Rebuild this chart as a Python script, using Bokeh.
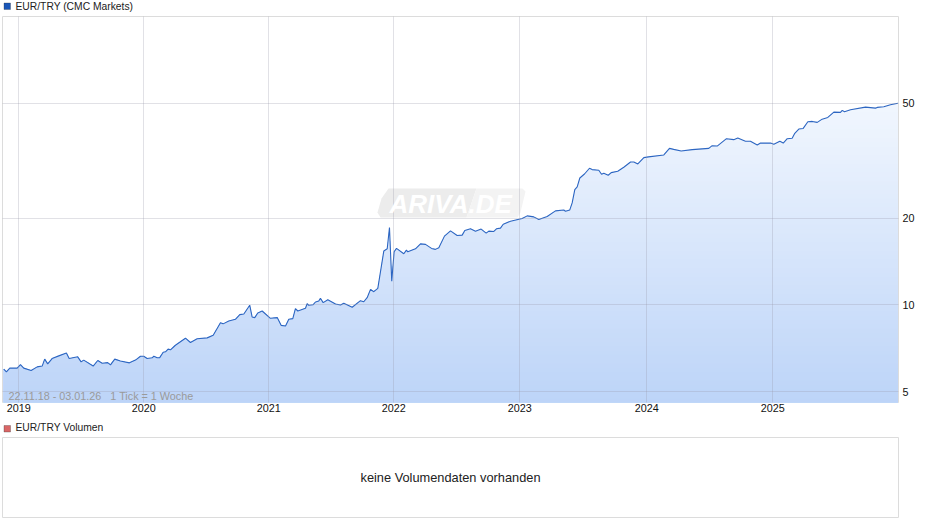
from bokeh.embed import file_html
from bokeh.layouts import column
from bokeh.models import FixedTicker, Label, NumeralTickFormatter, PolyAnnotation, Range1d
from bokeh.plotting import figure
from bokeh.resources import INLINE
import numpy as np

# x in decimal years
dates = [
    2018.879, 2018.900, 2018.927, 2018.986, 2019.012, 2019.038, 2019.097, 2019.145, 2019.185, 2019.205,
    2019.229, 2019.264, 2019.317, 2019.378, 2019.400, 2019.468, 2019.495, 2019.516, 2019.591, 2019.628,
    2019.663, 2019.707, 2019.729, 2019.763, 2019.808, 2019.880, 2019.928, 2019.968, 2019.994, 2020.021,
    2020.061, 2020.074, 2020.101, 2020.121, 2020.149, 2020.167, 2020.188, 2020.207, 2020.246, 2020.326,
    2020.366, 2020.419, 2020.499, 2020.547, 2020.605, 2020.626, 2020.671, 2020.724, 2020.759, 2020.791,
    2020.838, 2020.857, 2020.878, 2020.902, 2020.937, 2021.003, 2021.057, 2021.088, 2021.123, 2021.149,
    2021.181, 2021.202, 2021.221, 2021.282, 2021.295, 2021.308, 2021.343, 2021.362, 2021.388, 2021.401,
    2021.423, 2021.460, 2021.521, 2021.561, 2021.587, 2021.654, 2021.720, 2021.746, 2021.773, 2021.800,
    2021.826, 2021.858, 2021.906, 2021.933, 2021.951, 2021.969, 2021.988, 2022.007, 2022.065, 2022.086,
    2022.097, 2022.158, 2022.198, 2022.238, 2022.286, 2022.317, 2022.344, 2022.389, 2022.437, 2022.490,
    2022.530, 2022.551, 2022.596, 2022.636, 2022.681, 2022.721, 2022.742, 2022.782, 2022.803, 2022.835,
    2022.857, 2022.915, 2023.008, 2023.048, 2023.100, 2023.140, 2023.207, 2023.273, 2023.339, 2023.353,
    2023.387, 2023.406, 2023.427, 2023.446, 2023.467, 2023.504, 2023.544, 2023.565, 2023.618, 2023.640,
    2023.658, 2023.693, 2023.717, 2023.769, 2023.817, 2023.871, 2023.897, 2023.929, 2023.977, 2024.014,
    2024.136, 2024.181, 2024.215, 2024.274, 2024.362, 2024.494, 2024.521, 2024.561, 2024.635, 2024.693,
    2024.725, 2024.786, 2024.826, 2024.880, 2024.906, 2024.986, 2025.012, 2025.060, 2025.087, 2025.119,
    2025.158, 2025.177, 2025.211, 2025.246, 2025.283, 2025.318, 2025.358, 2025.397, 2025.442, 2025.490,
    2025.543, 2025.557, 2025.575, 2025.623, 2025.742, 2025.822, 2025.836, 2025.888, 2025.941, 2026.000,
]
eur_try = [
    5.99, 5.86, 6.04, 6.04, 6.21, 6.04, 5.93, 6.10, 6.14, 6.49,
    6.25, 6.52, 6.66, 6.81, 6.52, 6.61, 6.35, 6.44, 6.14, 6.42,
    6.28, 6.31, 6.20, 6.49, 6.39, 6.30, 6.44, 6.64, 6.64, 6.52,
    6.56, 6.64, 6.56, 6.57, 6.86, 6.88, 7.03, 6.99, 7.25, 7.67,
    7.41, 7.64, 7.69, 7.85, 8.68, 8.60, 8.80, 8.92, 9.26, 9.31,
    9.98, 9.09, 9.04, 9.38, 9.53, 8.99, 9.04, 8.50, 8.46, 8.92,
    8.97, 9.71, 9.53, 9.74, 10.10, 9.98, 10.02, 10.24, 10.32, 10.55,
    10.19, 10.43, 10.08, 10.00, 10.13, 9.82, 10.35, 10.26, 10.60, 11.33,
    11.12, 11.42, 15.40, 15.66, 18.57, 12.10, 15.29, 15.71, 15.05, 15.50,
    15.29, 15.66, 16.29, 16.22, 15.71, 15.59, 15.79, 17.33, 18.07, 17.42,
    17.47, 18.13, 18.37, 18.03, 18.33, 17.75, 18.03, 17.99, 18.37, 18.47,
    19.06, 19.52, 19.95, 20.37, 20.21, 19.79, 20.27, 21.20, 21.36, 21.14,
    21.36, 22.59, 25.14, 25.67, 27.57, 28.46, 29.80, 29.48, 29.32, 28.40,
    28.63, 28.18, 28.78, 29.09, 30.04, 31.32, 31.32, 30.83, 32.44, 32.64,
    33.13, 34.93, 34.65, 34.18, 34.58, 34.93, 35.68, 35.57, 37.73, 37.44,
    37.92, 36.95, 36.95, 35.86, 36.43, 36.43, 36.07, 36.95, 36.43, 37.73,
    37.84, 39.27, 40.74, 40.95, 43.21, 43.31, 42.97, 44.10, 44.72, 46.65,
    46.55, 47.30, 46.80, 47.54, 48.54, 48.16, 48.44, 48.69, 49.47, 50.10,
]
# the chart puts each year label on its first weekly tick, so these are not round
year_pos = [2018.9985, 2019.994, 2020.990, 2021.985, 2022.989, 2024.000, 2025.004]
year_labels = ["2019", "2020", "2021", "2022", "2023", "2024", "2025"]
price_ticks = [5, 10, 20, 50]

x_start, x_end = 2018.869, 2026.005
y_start, y_end = 4.59, 100.1
FONT = "Liberation Sans"


def heading(text, color, height, text_y, box_y):
    # things outside a frame get clipped in svg, so each heading is its own little figure
    h = figure(width=930, height=height, frame_width=930, frame_height=height,
               x_range=Range1d(0, 1), y_range=Range1d(0, 1),
               output_backend="svg", toolbar_location=None,
               min_border_left=0, min_border_top=0, min_border_right=0, min_border_bottom=0)
    h.axis.visible = False
    h.grid.visible = False
    h.outline_line_color = None
    h.add_layout(Label(x=13, y=text_y, x_units="screen", y_units="screen", text=text,
                       text_font=FONT, text_font_size="10.3px", text_color="#222222", text_baseline="middle"))
    h.add_layout(PolyAnnotation(xs=[1.5, 8, 8, 1.5], ys=[box_y, box_y, box_y + 6.5, box_y + 6.5],
                                xs_units="screen", ys_units="screen",
                                fill_color=color, fill_alpha=1, line_color="#333333", line_width=1))
    return h


p = figure(width=930, height=403, frame_width=896, frame_height=386,
           x_range=Range1d(x_start, x_end), y_range=Range1d(y_start, y_end),
           y_axis_type="log", y_axis_location="right",
           output_backend="svg", toolbar_location=None,
           min_border_left=2, min_border_top=1, min_border_right=32, min_border_bottom=16)
p.outline_line_color = "#dcdcdc"
p.background_fill_color = "white"

# fill fades upwards, painted as shrinking layers since glyphs have no gradient
vals = np.array(eur_try)
levels = np.geomspace(vals.max(), y_start, 70)
top_col = np.array([241, 246, 254])
bot_col = np.array([188, 212, 248])
for i, cap in enumerate(levels):
    c = top_col + (bot_col - top_col) * i / (len(levels) - 1)
    col = "#%02x%02x%02x" % tuple(int(round(a)) for a in c)
    p.varea(x=dates, y1=y_start, y2=np.minimum(vals, cap), fill_color=col)
p.line(dates, eur_try, line_color="#2d66c2", line_width=1.1)

p.xaxis.ticker = FixedTicker(ticks=year_pos)
p.xaxis.major_label_overrides = dict(zip(year_pos, year_labels))
p.yaxis.ticker = FixedTicker(ticks=price_ticks)
p.yaxis.formatter = NumeralTickFormatter(format="0")
for ax in (p.xaxis[0], p.yaxis[0]):
    ax.axis_line_color = None
    ax.major_tick_line_color = None
    ax.minor_tick_line_color = None
    ax.major_tick_out = 0
    ax.minor_tick_out = 0
    ax.major_label_text_font = FONT
    ax.major_label_text_font_size = "10.8px"
    ax.major_label_text_color = "#111111"
p.xaxis.major_label_standoff = 1
p.yaxis.major_label_standoff = 4
for g in (p.xgrid[0], p.ygrid[0]):
    g.grid_line_color = "#9696aa"
    g.grid_line_alpha = 0.29
    g.level = "guide"

# watermark, screen units count from the frame's bottom left
p.add_layout(PolyAnnotation(xs=[379, 386, 474, 464, 378, 375], ys=[204, 214, 214, 185, 185, 190],
                            xs_units="screen", ys_units="screen",
                            fill_color="#ececec", fill_alpha=1, line_color=None, level="underlay"))
p.add_layout(PolyAnnotation(xs=[474, 520, 523, 518, 515, 464], ys=[214, 214, 211, 190, 185, 185],
                            xs_units="screen", ys_units="screen",
                            fill_color="#f3f3f3", fill_alpha=1, line_color=None, level="underlay"))
p.add_layout(Label(x=387, y=199, x_units="screen", y_units="screen", text="ARIVA.DE",
                   text_font=FONT, text_font_size="26px", text_font_style="bold italic",
                   text_color="white", text_baseline="middle"))

p.add_layout(Label(x=6, y=7, x_units="screen", y_units="screen",
                   text="22.11.18 - 03.01.26\u00a0\u00a0\u00a01 Tick = 1 Woche",
                   text_font=FONT, text_font_size="10.8px", text_color="#9a9a9a", text_baseline="middle"))

# empty volume panel
p2 = figure(width=930, height=82, frame_width=896, frame_height=80,
            x_range=Range1d(0, 1), y_range=Range1d(0, 1),
            output_backend="svg", toolbar_location=None,
            min_border_left=2, min_border_top=1, min_border_right=32, min_border_bottom=1)
p2.axis.visible = False
p2.grid.visible = False
p2.outline_line_color = "#dcdcdc"
p2.add_layout(Label(x=0.5, y=0.5, text="keine Volumendaten vorhanden", text_font=FONT, text_font_size="12.8px",
                    text_color="#222222", text_align="center", text_baseline="middle"))

head1 = heading("EUR/TRY (CMC Markets)", "#1a56b8", 15, 9.5, 6)
head2 = heading("EUR/TRY Volumen", "#d96666", 18, 9, 4.5)

page = column(head1, p, head2, p2)
open("out.html", "w").write(file_html(page, INLINE))
